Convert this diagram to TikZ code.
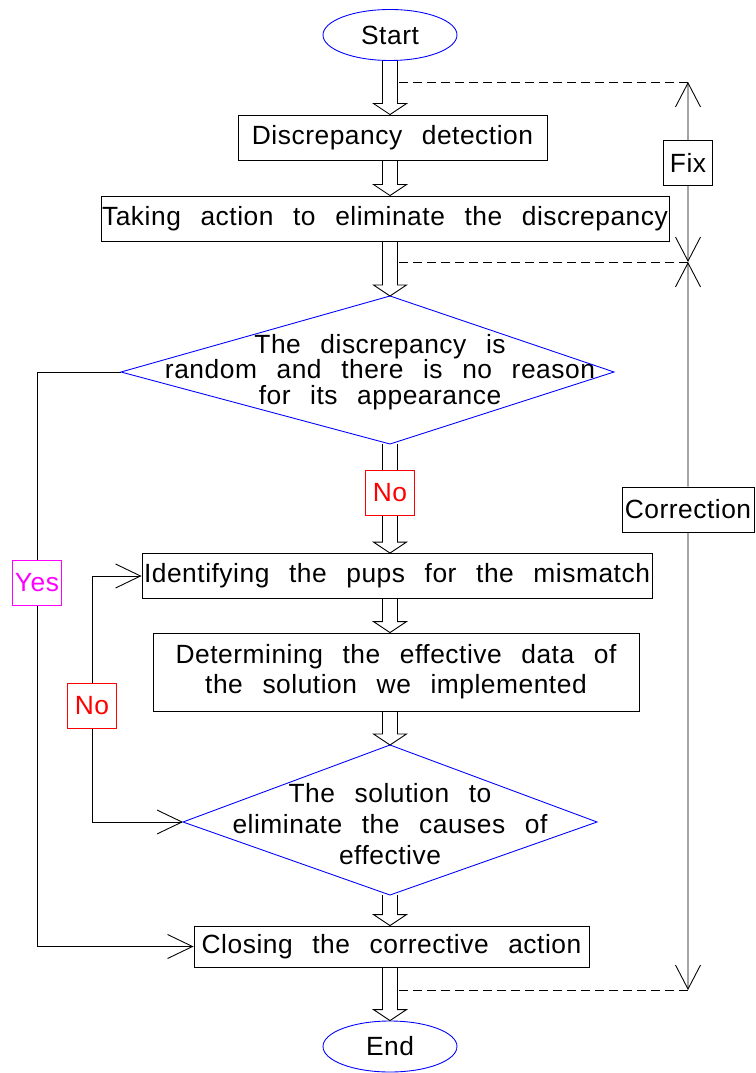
\documentclass[tikz,border=0pt]{standalone}
\usepackage{fontspec}
\setmainfont[LetterSpace=2,WordSpace=2.5]{Liberation Sans}
\usetikzlibrary{shapes.geometric,arrows.meta,calc}
\definecolor{cadmagenta}{RGB}{255,0,255}
\tikzstyle{startstop}=[ellipse,minimum width=2.68cm,minimum height=1.02cm,inner sep=0pt,draw=blue,line width=0.5pt]
\tikzstyle{process}=[rectangle,minimum height=0.9cm,inner sep=0pt,text centered,draw=black,line width=0.5pt]
\tikzstyle{choice}=[align=center,inner sep=0pt,font=\fontsize{15}{14.5}\selectfont]
\tikzstyle{decision}=[draw=blue,line width=0.5pt]
\tikzstyle{blockarrow}=[line width=0.5pt,to path={let \p1=(\tikztostart),\p2=(\tikztotarget) in (\x1-0.15cm,\y1) -- (\x1-0.15cm,\y2+0.22cm) -- (\x1-0.33cm,\y2+0.22cm) -- (\x1,\y2) -- (\x1+0.33cm,\y2+0.22cm) -- (\x1+0.15cm,\y2+0.22cm) -- (\x1+0.15cm,\y1)}]
\tikzstyle{flowline}=[line width=0.5pt,-{Straight Barb[length=0.5cm,width=0.48cm]}]
\tikzstyle{dimline}=[line width=0.5pt,-{Straight Barb[length=0.48cm,width=0.5cm]}]
\tikzstyle{leader}=[line width=0.5pt,dash pattern=on 0.18cm off 0.1cm]
\tikzstyle{markbox}=[rectangle,draw,fill=white,minimum width=0.98cm,minimum height=0.9cm,inner sep=1pt,line width=0.5pt]

\begin{document}
\begin{tikzpicture}[node distance=2cm,font=\fontsize{15}{17}\selectfont]
    \useasboundingbox (-7.8,0.7) rectangle (7.3,-20.76);
    % main chain
    \node (start)[startstop]{Start};
    \node (detect)[process,minimum width=6.18cm,below of=start,yshift=-0.05cm,xshift=0.05cm]{Discrepancy detection};
    \node (action)[process,minimum width=11.36cm,below of=detect,yshift=0.38cm,xshift=-0.15cm]{Taking action to eliminate the discrepancy};
    \node (dec1)[choice,below of=action,yshift=-1.07cm,xshift=-0.1cm]{The discrepancy is\\random and there is no reason\\for its appearance};
    \node (ident)[process,minimum width=10.2cm,below of=dec1,yshift=-2.08cm,xshift=0.34cm]{Identifying the pups for the mismatch};
    \node (determ)[process,minimum width=9.72cm,minimum height=1.56cm,align=center,below of=ident,yshift=0.08cm,xshift=-0.02cm]{Determining the effective data of\\the solution we implemented};
    \node (dec2)[choice,font=\fontsize{15}{17.6}\selectfont,below of=determ,yshift=-1.04cm,xshift=-0.12cm]{The solution to\\eliminate the causes of\\effective};
    \node (close)[process,minimum width=7.9cm,minimum height=0.82cm,below of=dec2,yshift=-0.45cm,xshift=0.03cm]{Closing the corrective action};
    \node (end)[startstop,below of=close,xshift=-0.03cm]{End};
    % decision outlines
    \coordinate (dec1 n) at ($(dec1)+(0.2,1.52)$);
    \coordinate (dec1 s) at ($(dec1)+(0.2,-1.44)$);
    \coordinate (dec1 w) at ($(dec1)+(-5.18,0)$);
    \coordinate (dec1 e) at ($(dec1)+(4.68,0)$);
    \coordinate (dec2 n) at ($(dec2)+(0,1.58)$);
    \coordinate (dec2 s) at ($(dec2)+(0,-1.42)$);
    \coordinate (dec2 w) at ($(dec2)+(-4.14,0.04)$);
    \coordinate (dec2 e) at ($(dec2)+(4.14,0.04)$);
    \draw [decision] (dec1 n) -- (dec1 e) -- (dec1 s) -- (dec1 w) -- cycle;
    \draw [decision] (dec2 n) -- (dec2 e) -- (dec2 s) -- (dec2 w) -- cycle;
    % block arrows
    \draw [blockarrow] (start.south) to (detect.north);
    \draw [blockarrow] (detect.south -| start) to (action.north);
    \draw [blockarrow] (action.south -| start) to (dec1 n);
    \draw [blockarrow] (dec1 s) to (ident.north);
    \draw [blockarrow] (ident.south -| start) to (determ.north);
    \draw [blockarrow] (determ.south -| start) to (dec2 n);
    \draw [blockarrow] (dec2 s) to (close.north);
    \draw [blockarrow] (close.south -| start) to (end.north);
    % fix / correction marks
    \coordinate (fixtop) at ($(start)+(5.96,-0.94)$);
    \coordinate (fixbot) at ($(start)+(5.96,-4.54)$);
    \coordinate (corbot) at ($(start)+(5.96,-19.1)$);
    \draw [leader,shorten >=0.15cm] (fixtop) -- (fixtop -| start);
    \draw [leader,shorten >=0.15cm] (fixbot) -- (fixbot -| start);
    \draw [leader,shorten >=0.15cm] (corbot) -- (corbot -| start);
    \node (fix)[markbox] at ($(fixtop)!0.45!(fixbot)$){Fix};
    \node (cor)[markbox,minimum width=2.64cm] at ($(fixbot)!0.34!(corbot)$){Correction};
    \draw [dimline] (fix) -- (fixtop);
    \draw [dimline] (fix) -- (fixbot);
    \draw [dimline] (cor) -- (fixbot);
    \draw [dimline] (cor) -- (corbot);
    % yes / no
    \node (no1)[markbox,draw=red,text=red] at ($(dec1 s)+(0,-0.98)$){No};
    \node (yes)[markbox,draw=cadmagenta,text=cadmagenta] at ($(dec1 w)+(-1.68,-4.22)$){Yes};
    \node (no2)[markbox,draw=red,text=red] at ($(dec2 w)+(-1.82,2.32)$){No};
    \draw [line width=0.5pt] (dec1 w) -| (yes);
    \draw [flowline] (yes) |- (close.west);
    \draw [flowline] (no2) |- (ident.west);
    \draw [flowline] (no2) |- (dec2 w);
\end{tikzpicture}
\end{document}
